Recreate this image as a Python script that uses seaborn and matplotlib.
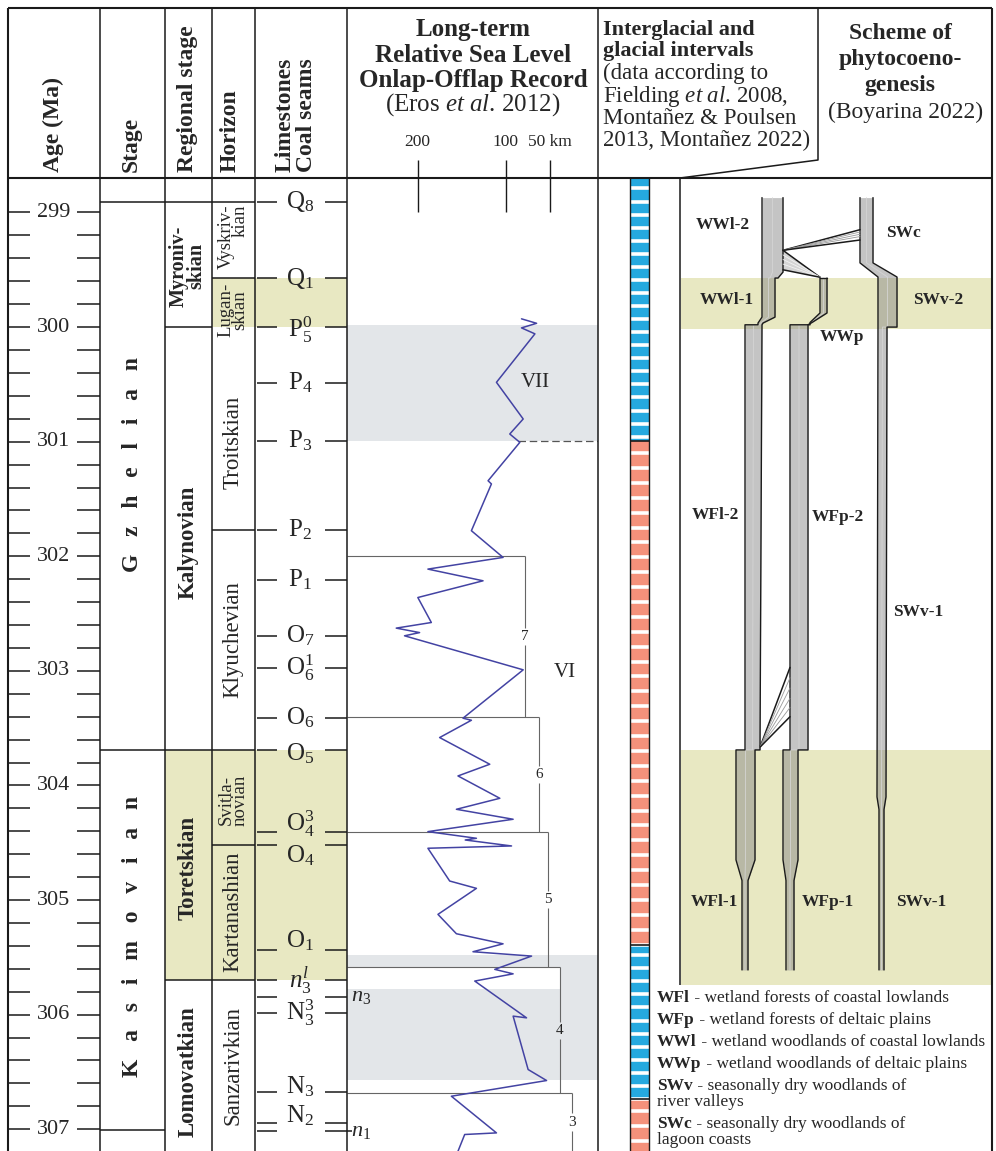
import numpy as np
import matplotlib
matplotlib.use('Agg')
import matplotlib.pyplot as plt
import seaborn as sns

sns.set_theme(style='white')
plt.rcParams['font.family'] = ['Liberation Serif', 'DejaVu Serif']
plt.rcParams['mathtext.fontset'] = 'custom'
plt.rcParams['mathtext.rm'] = 'Liberation Serif'
plt.rcParams['mathtext.it'] = 'Liberation Serif:italic'
plt.rcParams['mathtext.bf'] = 'Liberation Serif:bold'

# ---------------- data (ages in Ma) ----------------
age_labels = [299, 300, 301, 302, 303, 304, 305, 306, 307]

stage_names = ['Gzhelian', 'Kasimovian']
stage_bounds = [298.908, 303.69, 307.01]
stage_label_age = [301.2, 305.32]

regional_names = ['Myroniv-\nskian', 'Kalynovian', 'Toretskian', 'Lomovatkian']
regional_bounds = [298.908, 300.0, 303.69, 305.698]
regional_label_age = [299.47, 301.88, 304.72, 306.5]

horizon_names = ['Vyskriv-\nkian', 'Lugan-\nskian', 'Troitskian', 'Klyuchevian',
                 'Svitla-\nnovian', 'Kartanashian', 'Sanzarivkian']
horizon_bounds = [298.908, 299.572, 301.771, 303.69, 304.52, 305.698]
horizon_label_age = [299.21, 299.85, 301.01, 302.73, 304.13, 305.1, 306.44]

shade_luganskian = [299.572, 300.0]
shade_toretskian = [303.69, 305.698]

seam_names = [r'$\mathregular{Q_8}$', r'$\mathregular{Q_1}$', r'$\mathregular{P_5^0}$',
              r'$\mathregular{P_4}$', r'$\mathregular{P_3}$', r'$\mathregular{P_2}$',
              r'$\mathregular{P_1}$', r'$\mathregular{O_7}$', r'$\mathregular{O_6^1}$',
              r'$\mathregular{O_6}$', r'$\mathregular{O_5}$', r'$\mathregular{O_4^3}$',
              r'$\mathregular{O_4}$', r'$\mathregular{O_1}$', r'$\mathit{n_3^l}$',
              r'$\mathregular{N_3^3}$', r'$\mathregular{N_3}$', r'$\mathregular{N_2}$']
seam_age = [298.908, 299.572, 300.0, 300.488, 300.994, 301.771, 302.207, 302.696,
            302.975, 303.411, 303.69, 304.406, 304.52, 305.436, 305.698, 305.986,
            306.675, 306.946]
# label shift relative to the seam line (Ma), as placed in the original
seam_label_shift = [0, 0, 0.02, 0, 0, 0, 0, 0, 0, 0, 0.03, -0.07, 0.09, -0.08, 0,
                    0, -0.05, -0.06]
coal_names = [r'$\mathit{n_3}$', r'$\mathit{n_1}$']
coal_age = [305.846, 307.016]

# sea level curve (distance km vs age)
sea_km = [82.2, 65.1, 82.2, 67.0, 110.6, 80.3, 95.5, 84.1, 120.1, 116.3, 139.0, 103.1,
          188.3, 125.8, 199.7, 184.4, 224.2, 197.7, 214.8, 80.3, 148.5, 139.0, 175.0,
          118.2, 154.2, 106.8, 156.0, 91.7, 188.3, 133.3, 146.0, 93.5, 188.3, 163.6,
          133.3, 176.9, 156.0, 103.1, 137.2, 70.8, 112.5, 91.7, 135.2, 76.5, 91.7,
          74.7, 53.8, 161.7, 110.6, 146.6, 154.2]
sea_age = [299.928, 299.967, 300.007, 300.059, 300.482, 300.802, 300.933, 301.006,
           301.341, 301.369, 301.777, 302.010, 302.112, 302.214, 302.360, 302.578,
           302.627, 302.666, 302.694, 302.991, 303.413, 303.431, 303.582, 303.815,
           303.917, 304.112, 304.208, 304.295, 304.403, 304.461, 304.476, 304.528,
           304.548, 304.834, 304.898, 305.125, 305.294, 305.382, 305.451, 305.489,
           305.605, 305.644, 305.707, 306.028, 306.013, 306.479, 306.575, 306.712,
           307.032, 307.046, 307.192]
sea_ticks = [200, 100, 50]
sea_tick_labels = ['200', '100', '50 km']
cycle_names = ['7', '6', '5', '4', '3']
cycle_top = [302.0, 303.40, 304.407, 305.585, 306.685]
cycle_km = [78, 62.5, 52, 38.6, 25]
grey_bands = [(299.98, 300.995), (305.48, 306.57)]
white_gap = [305.585, 305.776]
seq_names = ['VII', 'VI']
seq_age = [300.48, 303.01]
seq_km = [67, 33]
dashed_age = 300.995
dashed_km = 86

# glacial / interglacial intervals
glac_bounds = [298.699, 300.995, 305.39, 306.74, 307.19]
glac_kind = ['inter', 'glacial', 'inter', 'glacial']

# phytocoenogenesis scheme
scheme_shade = [(299.572, 300.02), (303.69, 305.74)]
wfl_age = [298.87, 299.52, 299.572, 299.572, 299.913, 299.965, 299.98, 299.98,
           303.69, 303.69, 304.65, 304.83, 305.61]
wfp_age = [299.572, 299.877, 299.96, 299.98, 299.98, 303.69, 303.69, 304.65, 304.83, 305.61]
sw_age = [298.87, 299.44, 299.563, 299.572, 300.0, 300.0, 304.10, 304.21, 305.61]
fan1_origin = 299.33
fan1_targets = [299.15, 299.17, 299.19, 299.21, 299.24]
fan2_sources = [299.33, 299.37, 299.41, 299.45, 299.50]
fan2_target = 299.565
fan3_origin = 303.666
fan3_targets = [302.97, 303.06, 303.15, 303.24, 303.32, 303.40]

scheme_labels = ['WWl-2', 'SWc', 'WWl-1', 'SWv-2', 'WWp', 'WFl-2', 'WFp-2',
                 'SWv-1', 'WFl-1', 'WFp-1', 'SWv-1']
scheme_label_age = [299.11, 299.18, 299.76, 299.76, 300.09, 301.64, 301.66,
                    302.49, 305.02, 305.02, 305.02]

legend_codes = ['WFl', 'WFp', 'WWl', 'WWp', 'SWv', 'SWc']
legend_texts = [' - wetland forests of coastal lowlands',
                ' - wetland forests of deltaic plains',
                ' - wetland woodlands of coastal lowlands',
                ' - wetland woodlands of deltaic plains',
                ' - seasonally dry woodlands of',
                ' - seasonally dry woodlands of']
legend_more = ['', '', '', '', 'river valleys', 'lagoon coasts']

# ---------------- layout ----------------
W, H = 996, 1151
HEAD = 178
TOP_AGE, BOT_AGE = 298.699, 307.19
col_x = [8, 100, 165, 212, 255, 347, 598, 992]
yellow = '#e8e8c2'
band_grey = '#e3e6e9'

fig = plt.figure(figsize=(W / 100, H / 100), dpi=100)
fig.patch.set_facecolor('white')

ax = fig.add_axes([0, 0, 1, (H - HEAD) / H])
ax.set_xlim(0, W)
ax.set_ylim(BOT_AGE, TOP_AGE)
ax.axis('off')

ax_sea = fig.add_axes([347 / W, 0, (598 - 347) / W, (H - HEAD) / H])
ax_sea.set_xlim(280, -4.5)
ax_sea.set_ylim(BOT_AGE, TOP_AGE)
ax_sea.patch.set_alpha(0)

ax_px = fig.add_axes([0, 0, 1, 1])
ax_px.set_xlim(0, W)
ax_px.set_ylim(H, 0)
ax_px.axis('off')
ax_px.patch.set_alpha(0)

lw_frame = 1.5
lw_in = 1.1

# yellow shading in stratigraphic columns
ax.fill_betweenx(shade_luganskian, 212, 347, color=yellow, lw=0)
ax.fill_betweenx(shade_toretskian, 165, 347, color=yellow, lw=0)
for a, b in scheme_shade:
    ax.fill_betweenx([a, b], 681, 992, color=yellow, lw=0)

# age column ticks
for t in np.arange(299.0, 307.01, 0.2):
    ax.hlines(t, 8, 30, color='k', lw=lw_in)
    ax.hlines(t, 77, 100, color='k', lw=lw_in)
for a in age_labels:
    ax.text(54, a, str(a), ha='center', va='center', fontsize=16)

# stage column
for b in stage_bounds:
    ax.hlines(b, 100, 165, color='k', lw=lw_in)
for name, a in zip(stage_names, stage_label_age):
    ax.text(133, a, '\u2002 '.join(name), rotation=90, ha='center', va='center',
            fontsize=17, fontweight='bold')

# regional stage column
for b in regional_bounds:
    ax.hlines(b, 165, 212, color='k', lw=lw_in)
for name, a in zip(regional_names, regional_label_age):
    fs = 14.5 if '\n' in name else 16.5
    ax.text(188, a, name, rotation=90, ha='center', va='center', fontsize=fs,
            fontweight='bold', linespacing=0.85, multialignment='center')

# horizon column
for b in horizon_bounds:
    ax.hlines(b, 212, 255, color='k', lw=lw_in)
for name, a in zip(horizon_names, horizon_label_age):
    fs = 13.5 if '\n' in name else 16.5
    ma = 'right' if name.startswith('Vysk') else 'center'
    ax.text(233, a, name, rotation=90, ha='center', va='center', fontsize=fs,
            linespacing=0.8, multialignment=ma)

# limestones / coal seams
for name, a, sh in zip(seam_names, seam_age, seam_label_shift):
    ax.hlines(a, 257, 277, color='k', lw=lw_in)
    ax.hlines(a, 325, 347, color='k', lw=lw_in)
    ax.text(300, a + sh, name, ha='center', va='center', fontsize=18)
for name, a in zip(coal_names, coal_age):
    ax.hlines(a, 257, 277, color='k', lw=lw_in)
    ax.hlines(a, 325, 352, color='k', lw=lw_in)

# ---------------- sea level column ----------------
for a, b in grey_bands:
    ax_sea.axhspan(a, b, color=band_grey, lw=0)
ax_sea.fill_betweenx(white_gap, 280, cycle_km[3], color='white', lw=0)
gap = 0.075
for i, (top, km) in enumerate(zip(cycle_top, cycle_km)):
    bot = cycle_top[i + 1] if i + 1 < len(cycle_top) else BOT_AGE
    mid = (top + bot) / 2
    ax_sea.hlines(top, 280, km, color='#666666', lw=0.8)
    ax_sea.vlines([km, km], [top, mid + gap], [mid - gap, bot], color='#666666', lw=0.8)
    ax_sea.text(km, mid, cycle_names[i], ha='center', va='center', fontsize=11)
ax_sea.hlines(dashed_age, dashed_km, -4.5, color='#555555', lw=0.9,
              linestyles=(0, (6, 3)))
for name, a, km in zip(seq_names, seq_age, seq_km):
    ax_sea.text(km, a, name, ha='center', va='center', fontsize=15)
sns.lineplot(x=sea_km, y=sea_age, sort=False, estimator=None, color='#4343a3',
             lw=1.1, ax=ax_sea)
ax_sea.vlines(sea_ticks, TOP_AGE, 299.0, color='k', lw=1)
ax_sea.set_xticks(sea_ticks)
ax_sea.set_xticklabels(sea_tick_labels)
ax_sea.xaxis.set_ticks_position('top')
ax_sea.tick_params(axis='x', top=True, labeltop=True, bottom=False, labelbottom=False,
                   direction='out', length=13, width=1, color='k', pad=7,
                   labelsize=12.5)
ax_sea.set_yticks([])
for s in ax_sea.spines.values():
    s.set_visible(False)
ax_sea.set_xlabel('')
ax_sea.set_ylabel('')
for name, a in zip(coal_names, coal_age):
    ax_sea.text(276, a, name, ha='left', va='center', fontsize=16)

# ---------------- glacial column ----------------
glac_color = {'inter': '#25a9df', 'glacial': '#f4917b'}
glac_period = {'inter': 0.114, 'glacial': 0.13}
for i, kind in enumerate(glac_kind):
    a, b = glac_bounds[i], glac_bounds[i + 1]
    ax.fill_betweenx([a, b], 630, 649, color=glac_color[kind], lw=0)
    stripes = np.arange(a + glac_period[kind] * 0.8, b, glac_period[kind])
    ax.hlines(stripes, 630, 649, color='white', lw=2.6)
    ax.hlines(a, 630, 649, color='k', lw=1.2)
ax.vlines([630, 649], TOP_AGE, BOT_AGE, color='k', lw=1)

# ---------------- phytocoenogenesis scheme ----------------
ax.vlines(680, TOP_AGE, 305.74, color='k', lw=lw_in)
tube_fc = '#8a8a8a'


def tube(ages, xl, xr, top_edge=False):
    ax.fill_betweenx(ages, xl, xr, color=tube_fc, alpha=0.5, lw=0)
    mid = [(l + r) / 2 for l, r in zip(xl, xr)]
    ax.plot(mid, ages, color='#d6d6d6', lw=0.7, alpha=0.8)
    ax.plot(xl, ages, color='k', lw=1)
    ax.plot(xr, ages, color='k', lw=1)
    if top_edge:
        ax.plot([xl[0], xr[0]], [ages[0], ages[0]], color='k', lw=1)


tube(wfl_age,
     [762, 762, 762, 762, 762, 758, 758, 745, 745, 736, 736, 742, 742],
     [783, 783, 778, 775, 775, 763, 762, 762, 760, 755, 755, 748, 748])
tube(wfp_age,
     [820, 820, 810, 810, 790, 790, 783, 783, 786, 786],
     [827, 827, 812, 808, 808, 808, 798, 798, 794, 794], top_edge=True)
tube(sw_age,
     [860, 860, 878, 878, 878, 878, 877, 879, 879],
     [873, 873, 897, 897, 897, 887, 886, 884, 884])

# fans of lineage transitions
for i, t in enumerate(fan1_targets):
    outer = i in (0, len(fan1_targets) - 1)
    ax.plot([783, 860], [fan1_origin, t], color='k' if outer else '#999999',
            lw=1.1 if outer else 0.6)
ax.fill([783, 783, 820], [fan2_sources[0], fan2_sources[-1], fan2_target],
        color='#d4d4d4', lw=0)
for i, s in enumerate(fan2_sources):
    outer = i in (0, len(fan2_sources) - 1)
    ax.plot([783, 820], [s, fan2_target], color='k' if outer else '#f2f2f2',
            lw=1.1 if outer else 0.6)
for i, t in enumerate(fan3_targets):
    outer = i in (0, len(fan3_targets) - 1)
    ax.plot([760, 790], [fan3_origin, t], color='k' if outer else '#999999',
            lw=1.1 if outer else 0.6)

scheme_label_x = [723, 903, 727, 938, 842, 715, 838, 918, 714, 828, 921]
for name, x, a in zip(scheme_labels, scheme_label_x, scheme_label_age):
    ax.text(x, a, name, ha='center', va='center', fontsize=12.5, fontweight='bold')

# legend
legend_y = [998, 1020, 1042, 1064, 1086, 1124]
legend_more_y = [0, 0, 0, 0, 1102, 1140]
for code, txt, more, y, y2 in zip(legend_codes, legend_texts, legend_more,
                                   legend_y, legend_more_y):
    t = ax_px.text(657, y, code, fontsize=12.5, fontweight='bold', va='center')
    ax_px.annotate(txt, xy=(1, 0), xycoords=t, fontsize=12.5, va='bottom', ha='left')
    if more:
        ax_px.text(657, y2, more, fontsize=12.5, va='center')

# ---------------- frame and header ----------------
ax_px.hlines([8, HEAD], 8, 992, color='k', lw=lw_frame)
ax_px.vlines([8, 992], 8, H, color='k', lw=lw_frame)
ax_px.vlines(col_x[1:-1], 8, H, color='k', lw=lw_in)
ax_px.plot([818, 818, 680], [8, 160, HEAD], color='k', lw=lw_in)

head_bold = dict(rotation=90, ha='center', va='bottom', fontsize=17, fontweight='bold')
ax_px.text(53, 172, 'Age (Ma)', **head_bold)
ax_px.text(131, 172, 'Stage', **head_bold)
ax_px.text(188, 172, 'Regional stage', **head_bold)
ax_px.text(230, 172, 'Horizon', **head_bold)
ax_px.text(296, 172, 'Limestones\nCoal seams', multialignment='left', linespacing=1.05,
           **head_bold)

for txt, y in zip(['Long-term', 'Relative Sea Level', 'Onlap-Offlap Record'],
                  [29, 55, 80]):
    ax_px.text(473, y, txt, ha='center', va='center', fontsize=18, fontweight='bold')
ax_px.text(473, 105, r'(Eros $\mathit{et\ al}$. 2012)', ha='center', va='center',
           fontsize=18)

glac_lines = [('Interglacial and', 'bold', 30), ('glacial intervals', 'bold', 51),
              ('(data according to', 'normal', 73),
              (r'Fielding $\mathit{et\ al}$. 2008,', 'normal', 96),
              ('Montañez & Poulsen', 'normal', 118),
              ('2013, Montañez 2022)', 'normal', 140)]
for txt, wt, y in glac_lines:
    ax_px.text(603, y, txt, ha='left', va='center', fontweight=wt,
               fontsize=16 if wt == 'bold' else 16.5)

for txt, wt, y in [('Scheme of', 'bold', 33), ('phytocoeno-', 'bold', 59),
                   ('genesis', 'bold', 85), ('(Boyarina 2022)', 'normal', 112)]:
    ax_px.text(900 if wt == 'bold' else 906, y, txt, ha='center', va='center',
               fontweight=wt, fontsize=17)

fig.savefig('out.png', dpi=100)
